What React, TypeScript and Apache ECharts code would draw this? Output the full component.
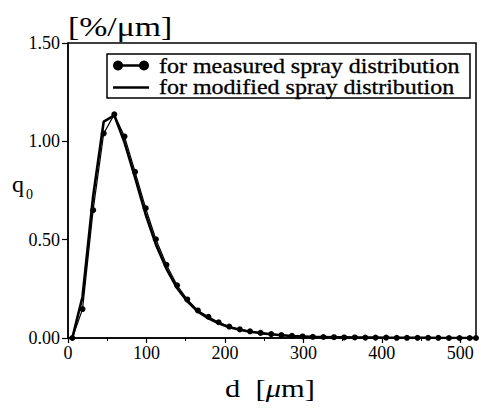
import React, { useEffect, useRef } from "react";
import * as echarts from "echarts";

// droplet diameter classes d [µm]
const diameters = [
  5.5, 18.5, 32, 45.5, 59, 72, 85.5, 99, 112, 125.5, 139, 152, 165.5, 179, 192,
  205.5, 219, 232, 245.5, 259, 272, 285.5, 299, 312, 325.5, 339, 352, 365.5,
  379, 392, 405.5, 419, 432, 445.5, 459, 472, 485.5, 499, 512, 520,
];

// q0 [%/µm] for measured spray distribution (with markers)
const measured = [
  0, 0.147, 0.65, 1.04, 1.137, 1.025, 0.845, 0.66, 0.502, 0.372, 0.268, 0.196,
  0.14, 0.108, 0.08, 0.058, 0.044, 0.034, 0.026, 0.02, 0.015, 0.011, 0.008,
  0.006, 0.005, 0.004, 0.003, 0.003, 0.002, 0.002, 0.002, 0.001, 0.001, 0.001,
  0.001, 0.001, 0, 0, 0, 0,
];

// q0 [%/µm] for modified spray distribution (solid line)
const modified = [
  0, 0.21, 0.72, 1.1, 1.132, 0.995, 0.815, 0.628, 0.476, 0.352, 0.254, 0.186,
  0.134, 0.1, 0.075, 0.055, 0.042, 0.032, 0.025, 0.019, 0.014, 0.01, 0.008,
  0.006, 0.005, 0.004, 0.003, 0.002, 0.002, 0.002, 0.001, 0.001, 0.001, 0.001,
  0.001, 0, 0, 0, 0, 0,
];

const xTickLabels = [0, 100, 200, 300, 400, 500];
const xMinorTicks = [50, 150, 250, 350, 450];
const seriesNames = [
  "for measured spray distribution",
  "for modified spray distribution",
];
const yUnitLabel = "[%/μm]";

const FONT = "Liberation Serif, serif";

export default function App() {
  const ref = useRef<HTMLDivElement>(null);

  useEffect(() => {
    const chart = echarts.init(ref.current!, null, { renderer: "svg" });
    const pairs = (ys: number[]) => diameters.map((d, i) => [d, ys[i]]);

    const txt = (
      text: string,
      x: number,
      y: number,
      fontSize: number,
      scaleX = 1,
      align = "left",
      extra: any = {}
    ) => ({
      type: "text",
      x,
      y,
      scaleX,
      style: {
        text,
        fontSize,
        fontFamily: FONT,
        fill: "#000",
        align,
        verticalAlign: "middle",
        ...extra,
      },
    });

    chart.setOption({
      animation: false,
      backgroundColor: "#fff",
      textStyle: { fontFamily: FONT },
      grid: {
        left: 68,
        right: 5,
        top: 43,
        bottom: 71,
        show: true,
        borderColor: "#000",
        borderWidth: 1.5,
        backgroundColor: "transparent",
      },
      xAxis: [
        {
          type: "value",
          min: 0,
          max: 520,
          interval: 100,
          position: "bottom",
          axisLine: { lineStyle: { color: "#000", width: 1.5 } },
          axisTick: {
            length: 5,
            customValues: xTickLabels,
            lineStyle: { color: "#000", width: 1.2 },
          },
          axisLabel: {
            customValues: xTickLabels,
            color: "#000",
            fontSize: 18,
            fontFamily: FONT,
            margin: 6,
          },
          splitLine: { show: false },
        },
        {
          type: "value",
          min: 0,
          max: 520,
          position: "bottom",
          axisLine: { show: false },
          axisTick: {
            length: 3,
            customValues: xMinorTicks,
            lineStyle: { color: "#000", width: 1 },
          },
          axisLabel: { show: false },
          splitLine: { show: false },
        },
      ],
      yAxis: {
        type: "value",
        min: 0,
        max: 1.5,
        interval: 0.5,
        axisLine: { show: true, lineStyle: { color: "#000", width: 1.5 } },
        axisTick: { show: true, length: 6, lineStyle: { color: "#000", width: 1.2 } },
        axisLabel: {
          color: "#000",
          fontSize: 18,
          fontFamily: FONT,
          margin: 8,
          formatter: (v: number) => v.toFixed(2),
        },
        splitLine: { show: false },
      },
      series: [
        {
          name: seriesNames[1],
          type: "line",
          data: pairs(modified),
          symbol: "none",
          lineStyle: { color: "#000", width: 2.6 },
          itemStyle: { color: "#000" },
          z: 2,
        },
        {
          name: seriesNames[0],
          type: "line",
          data: pairs(measured),
          symbol: "circle",
          symbolSize: 6,
          showSymbol: true,
          lineStyle: { color: "#000", width: 1.2 },
          itemStyle: { color: "#000" },
          z: 3,
        },
      ],
      graphic: [
        txt(yUnitLabel, 68, 27, 27, 1.25),
        txt("q", 12, 184, 24),
        txt("0", 26, 194, 14),
        {
          type: "text",
          x: 270,
          y: 388,
          scaleX: 1.22,
          style: {
            text: "d  [{i|μ}m]",
            fontSize: 25,
            fontFamily: FONT,
            fill: "#000",
            align: "center",
            verticalAlign: "middle",
            rich: {
              i: { fontSize: 25, fontFamily: FONT, fontStyle: "italic", fill: "#000" },
            },
          },
        },
        {
          type: "group",
          children: [
            {
              type: "rect",
              shape: { x: 107, y: 54, width: 363, height: 44 },
              style: { fill: "#fff", stroke: "#000", lineWidth: 1.5 },
            },
            {
              type: "line",
              shape: { x1: 118, y1: 65.5, x2: 144, y2: 65.5 },
              style: { stroke: "#000", lineWidth: 2.5 },
            },
            { type: "circle", shape: { cx: 118, cy: 65.5, r: 5 }, style: { fill: "#000" } },
            { type: "circle", shape: { cx: 144, cy: 65.5, r: 5 }, style: { fill: "#000" } },
            {
              type: "line",
              shape: { x1: 113, y1: 87.5, x2: 149, y2: 87.5 },
              style: { stroke: "#000", lineWidth: 2.5 },
            },
            txt(seriesNames[0], 159, 66, 20, 1.2, "left", {
              stroke: "#000",
              lineWidth: 0.3,
            }),
            txt(seriesNames[1], 159, 87.5, 20, 1.2, "left", {
              stroke: "#000",
              lineWidth: 0.3,
            }),
          ],
        },
      ],
    });

    return () => chart.dispose();
  }, []);

  return (
    <div
      ref={ref}
      style={{ position: "fixed", left: 0, top: 0, width: 481, height: 409, background: "#fff" }}
    />
  );
}
